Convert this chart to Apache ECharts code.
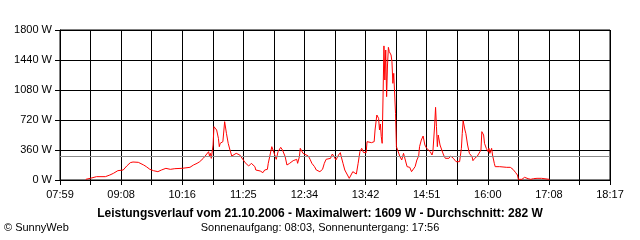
<!DOCTYPE html>
<html>
<head>
<meta charset="utf-8">
<script src="https://cdn.jsdelivr.net/npm/echarts@6/dist/echarts.min.js"></script>
<style>
html, body { margin: 0; padding: 0; background: #fff; }
#chart { width: 640px; height: 240px; }
</style>
</head>
<body>
<div id="chart"></div>
<script>
var times = [
  '08:28','08:33','08:40','08:50','08:55','08:59','09:04','09:10','09:14','09:18',
  '09:21','09:27','09:33','09:36','09:40','09:44','09:49','09:51','09:53','09:55',
  '09:58','10:03','10:08','10:16','10:25','10:29','10:33','10:36','10:40','10:43',
  '10:46','10:47','10:48','10:49','10:51','10:52','10:54','10:55','10:57','10:58',
  '10:59','11:01','11:02','11:04','11:05','11:06','11:08','11:10','11:12','11:14',
  '11:17','11:21','11:25','11:27','11:31','11:34','11:38','11:39','11:44','11:47',
  '11:49','11:52','11:53','11:55','11:57','11:59','12:01','12:02','12:04','12:07',
  '12:09','12:12','12:14','12:17','12:19','12:21','12:23','12:25','12:26','12:28',
  '12:29','12:31','12:32','12:34','12:38','12:40','12:42','12:44','12:45','12:47',
  '12:49','12:51','12:54','12:56','12:58','13:00','13:03','13:05','13:07','13:09',
  '13:12','13:14','13:15','13:17','13:19','13:22','13:24','13:26','13:28','13:30',
  '13:32','13:34','13:36','13:38','13:40','13:43','13:44','13:46','13:49','13:52',
  '13:53','13:55','13:57','13:58','13:59','14:00','14:01','14:02','14:03','14:04',
  '14:05','14:06','14:07','14:08','14:09','14:11','14:12','14:13','14:14','14:15',
  '14:16','14:17','14:19','14:21','14:23','14:25','14:27','14:29','14:30','14:32',
  '14:34','14:36','14:38','14:40','14:42','14:43','14:45','14:47','14:49','14:51',
  '14:53','14:55','14:57','14:58','15:00','15:01','15:02','15:03','15:04','15:06',
  '15:08','15:10','15:12','15:14','15:16','15:18','15:21','15:24','15:26','15:28',
  '15:30','15:31','15:32','15:34','15:35','15:37','15:38','15:39','15:41','15:42',
  '15:43','15:45','15:48','15:50','15:52','15:53','15:55','15:56','15:57','15:58',
  '16:00','16:01','16:02','16:04','16:05','16:07','16:08','16:10','16:13','16:21',
  '16:25','16:28','16:31','16:33','16:34','16:38','16:41','16:45','16:48','16:51',
  '16:55','17:00','17:02','17:09'
];
var watts = [
  8, 20, 40, 40, 60, 80, 112, 120, 168, 208,
  216, 212, 180, 160, 128, 112, 100, 88, 120, 100,
  140, 128, 136, 140, 152, 180, 200, 220, 260, 300,
  340, 288, 320, 260, 420, 640, 648, 600, 500, 400,
  440, 420, 460, 700, 690, 560, 440, 360, 288, 300,
  320, 300, 240, 208, 168, 200, 160, 120, 108, 88,
  120, 128, 200, 300, 400, 408, 280, 248, 340, 392,
  360, 280, 180, 200, 220, 232, 220, 248, 200, 280,
  380, 360, 320, 300, 288, 248, 200, 200, 160, 120,
  128, 100, 128, 200, 248, 248, 260, 312, 280, 240,
  300, 328, 280, 200, 120, 60, 20, 40, 100, 100,
  72, 200, 340, 380, 330, 328, 460, 460, 448, 460,
  600, 780, 740, 600, 672, 520, 440, 1008, 1609, 1200,
  1560, 1000, 1380, 1592, 1540, 1500, 1420, 1160, 1280, 1300,
  800, 400, 400, 280, 240, 320, 240, 160, 180, 152,
  100, 120, 160, 240, 288, 400, 480, 528, 420, 380,
  360, 340, 300, 340, 660, 872, 640, 400, 540, 420,
  360, 300, 260, 240, 260, 288, 260, 220, 200, 220,
  380, 560, 712, 600, 560, 420, 440, 320, 320, 280,
  232, 260, 288, 300, 360, 580, 540, 440, 440, 380,
  340, 380, 320, 380, 300, 200, 160, 152, 160, 152,
  152, 128, 88, 60, 8, 8, 32, 16, 8, 16,
  20, 20, 8, 8
];
var xLabels = ['07:59','09:08','10:16','11:25','12:34','13:42','14:51','16:00','17:08','18:17'];
var average = 282;

var FONT = "'Liberation Sans', Arial, sans-serif";
var START = 7 * 60 + 59;      // 07:59
var STEP = 618 / 18;           // minutes per grid column

function toMin(s) {
  var p = s.split(':');
  return +p[0] * 60 + +p[1];
}

var points = times.map(function (t, i) {
  return [(toMin(t) - START) / STEP, watts[i]];
});

var chart = echarts.init(document.getElementById('chart'), null, { renderer: 'canvas' });

chart.setOption({
  animation: false,
  backgroundColor: '#fff',
  title: [
    {
      text: 'Leistungsverlauf vom 21.10.2006 - Maximalwert: 1609 W - Durchschnitt: 282 W',
      left: 'center', top: 208, padding: 0,
      textStyle: { fontFamily: FONT, fontSize: 12, fontWeight: 'bold', color: '#000' }
    },
    {
      text: 'Sonnenaufgang: 08:03, Sonnenuntergang: 17:56',
      left: 'center', top: 222, padding: 0,
      textStyle: { fontFamily: FONT, fontSize: 11, fontWeight: 'normal', color: '#000' }
    },
    {
      text: '© SunnyWeb',
      left: 4, top: 222, padding: 0,
      textStyle: { fontFamily: FONT, fontSize: 11, fontWeight: 'normal', color: '#000' }
    }
  ],
  grid: {
    left: 60, right: 30, top: 30, bottom: 60,
    show: true, borderColor: '#000', borderWidth: 1
  },
  xAxis: {
    type: 'value',
    min: 0, max: 18, interval: 1,
    axisLine: { lineStyle: { color: '#000', width: 1 } },
    axisTick: { show: true, length: 5, lineStyle: { color: '#000' } },
    splitLine: { show: true, lineStyle: { color: '#000', width: 1 } },
    axisLabel: {
      margin: 9,
      color: '#000', fontFamily: FONT, fontSize: 11,
      formatter: function (v) {
        var i = Math.round(v);
        return i % 2 === 0 ? xLabels[i / 2] : '';
      }
    }
  },
  yAxis: {
    type: 'value',
    min: 0, max: 1800, interval: 360,
    axisLine: { show: true, lineStyle: { color: '#000', width: 1 } },
    axisTick: { show: true, length: 5, lineStyle: { color: '#000' } },
    splitLine: { show: true, lineStyle: { color: '#000', width: 1 } },
    axisLabel: {
      margin: 8,
      color: '#000', fontFamily: FONT, fontSize: 11,
      formatter: function (v) { return v + ' W'; }
    }
  },
  series: [
    {
      type: 'line',
      data: points,
      showSymbol: false,
      symbol: 'none',
      lineStyle: { color: '#ff0000', width: 1 },
      z: 3,
      markLine: {
        silent: true,
        symbol: 'none',
        label: { show: false },
        lineStyle: { color: '#8c8c8c', type: 'solid', width: 1 },
        data: [{ yAxis: average }]
      }
    }
  ]
});
</script>
</body>
</html>
